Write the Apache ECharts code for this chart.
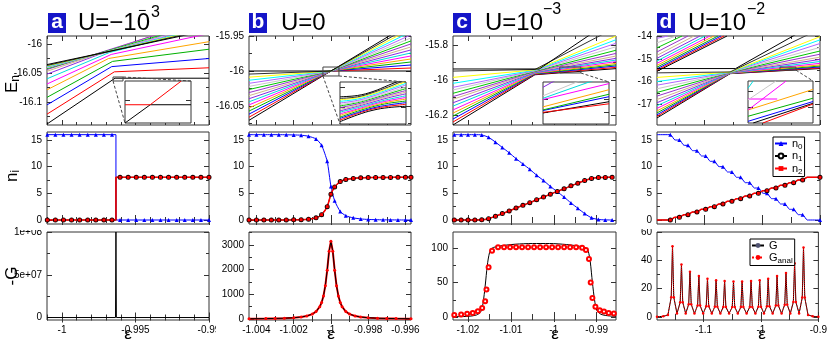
<!DOCTYPE html>
<html><head><meta charset="utf-8">
<script src="https://cdn.jsdelivr.net/npm/echarts@6.0.0/dist/echarts.min.js"></script>
<style>html,body{margin:0;padding:0;background:#fff;}#chart{width:830px;height:346px;}</style>
</head><body><div id="chart"></div>
<script>
// ================= DATA =================
const levelColors = ['#000000','#ff0000','#0000ff','#00b000','#ffa500','#ff00ff','#00dcdc','#8a2be2','#d2b48c','#9932cc','#00c800','#c8c8c8','#b464ff','#00ffff','#ffff00','#303030','#000000'];

// ---- top row, panel a (U=-1e-3): each level = left point, knee, right point
const aEdgeEps = [-1.00102, -0.99];
const aLeftE  = [-16.138,-16.121,-16.105,-16.092,-16.079,-16.069,-16.060,-16.052,-16.047,-16.044,-16.0425,-16.041,-16.040,-16.039,-16.038,-16.037,-16.0355];
const aKneeEps= [-0.99639,-0.99644,-0.99662,-0.99656,-0.99683,-0.99665,-0.99676,-0.99756,-0.9955,-0.9955,-0.9955,-0.9955,-0.9955,-0.9955,-0.9955,-0.9955,-0.9955];
const aKneeE  = [-16.059,-16.048,-16.039,-16.030,-16.025,-16.018,-16.0145,-16.0187,-16.000,-15.9995,-16.0013,-16.003,-16.004,-16.0045,-16.005,-16.0055,-16.0058];
const aRightE = [-16.059,-16.041,-16.025,-16.009,-15.996,-15.982,-15.971,-15.962,-15.953,-15.955,-15.960,-15.965,-15.968,-15.970,-15.972,-15.974,-15.976];
const aZoomEps = [-0.99653, -0.99585], aZoomE = [-16.0638, -16.0569];
const aInsetBlack = [[-0.99653,-16.0638],[-0.99627,-16.0608],[-0.99585,-16.0608]];
const aInsetRed   = [[-0.99653,-16.0608],[-0.99627,-16.0608],[-0.99595,-16.0569]];

// ---- panel b (U=0)
const bEdgeEps = [-1.0044, -0.9957], bCross = [-1, -16];
const bLeftE  = [-16.0704,-16.066,-16.0616,-16.0572,-16.0528,-16.0484,-16.044,-16.0396,-16.0352,-16.0308,-16.0264,-16.022,-16.0176,-16.0132,-16.0088,-16.0044,-16.0];
const bRightE = [-16.0,-15.9957,-15.9914,-15.9871,-15.9828,-15.9785,-15.9742,-15.9699,-15.9656,-15.9613,-15.957,-15.9527,-15.9484,-15.9441,-15.9398,-15.9355,-15.9312];
const bZoomEps = [-1.00043, -0.99957], bZoomE = [-16.0071, -15.9943];
const bInsetEps = [-1.00043, -1.0002, -1.0, -0.9998, -0.99957];
const bInsetCol0 = [-16.0064,-16.0059,-16.0054,-16.0050,-16.0045,-16.0040,-16.0035,-16.0031,-16.0026,-16.0021,-16.0016,-16.0012,-16.0007,-16.0002,-15.9997,-15.9993,-15.9988];
const bInsetCol1 = [-16.0043,-16.0039,-16.0036,-16.0032,-16.0028,-16.0025,-16.0021,-16.0017,-16.0014,-16.0010,-16.0006,-16.0003,-15.9999,-15.9995,-15.9991,-15.9988,-15.9984];
const bInsetCol2 = [-16.0029,-16.0025,-16.0022,-16.0018,-16.0015,-16.0011,-16.0008,-16.0004,-16.0000,-15.9997,-15.9993,-15.9990,-15.9986,-15.9982,-15.9979,-15.9975,-15.9972];
const bInsetCol3 = [-16.0021,-16.0017,-16.0013,-16.0008,-16.0004,-16.0000,-15.9996,-15.9991,-15.9987,-15.9983,-15.9979,-15.9975,-15.9970,-15.9966,-15.9962,-15.9958,-15.9953];
const bInsetCol4 = [-16.0017,-16.0011,-16.0006,-16.0001,-15.9995,-15.9990,-15.9985,-15.9979,-15.9974,-15.9969,-15.9963,-15.9958,-15.9952,-15.9947,-15.9942,-15.9936,-15.9931];

// ---- panel c (U=1e-3)
const cEdgeEps = [-1.0235, -0.9855];
const cLeftE  = [-16.257,-16.24,-16.223,-16.206,-16.189,-16.171,-16.149,-16.13,-16.11,-16.095,-16.076,-16.057,-16.042,-16.019,-15.985,-15.949,-15.937];
const cMidEps = [-1.0044,-1.0044,-1.0044,-1.0044,-1.0044,-1.0044,-1.0044,-1.0044,-1.0044,-1.0044,-1.0044,-1.0044,-1.0044,-1.0044,-1.0044,-1.0044,-1.0034];
const cMidE   = [-15.970,-15.968,-15.966,-15.964,-15.962,-15.960,-15.958,-15.956,-15.954,-15.952,-15.950,-15.948,-15.946,-15.944,-15.942,-15.940,-15.937];
const cRightE = [-15.935,-15.928,-15.92,-15.913,-15.905,-15.895,-15.886,-15.876,-15.863,-15.848,-15.83,-15.81,-15.79,-15.77,-15.749,-15.699,-15.641];
const cZoomEps = [-0.9986, -0.9937], cZoomE = [-15.96, -15.9257];
const cInsetLeftE  = [-15.951,-15.9505,-15.949,-15.9485,-15.946,-15.940,-15.939,-15.937,-15.930];
const cInsetRightE = [-15.9418,-15.9435,-15.9377,-15.9357,-15.932,-15.927,-15.920,-15.915,-15.900];
const cInsetColors = ['#000000','#ff0000','#0000ff','#00b000','#ffa500','#ff00ff','#00dcdc','#c8c8c8','#8a2be2'];

// ---- panel d (U=1e-2)
const dEdgeEps = [-1.181, -0.9];
const dLeftE  = [-17.60,-17.53,-17.46,-17.38,-17.29,-17.18,-17.06,-16.93,-16.79,-16.64,-16.48,-16.32,-16.16,-16.00,-15.82,-15.62,-15.43];
const dMidEps = [-1.055,-1.055,-1.055,-1.055,-1.055,-1.055,-1.055,-1.055,-1.055,-1.055,-1.055,-1.055,-1.055,-1.055,-1.055,-1.055,-1.0455];
const dMidE   = [-15.655,-15.65,-15.645,-15.64,-15.635,-15.63,-15.625,-15.62,-15.615,-15.61,-15.605,-15.60,-15.595,-15.59,-15.585,-15.58,-15.43];
const dRightE = [-15.43,-15.40,-15.36,-15.32,-15.27,-15.20,-15.12,-15.03,-14.93,-14.80,-14.66,-14.50,-14.33,-14.17,-14.03,-13.69,-13.33];
const dUpLeftE   = [-15.55,-15.50,-15.44,-15.37,-15.29,-15.20,-15.10,-14.98,-14.85,-14.70,-14.52,-14.30,-14.10];
const dUpExitEps = [-1.0603,-1.0655,-1.0707,-1.0759,-1.0828,-1.0897,-1.0983,-1.1069,-1.1172,-1.1276,-1.1379,-1.1483,-1.1621];
const dUpExitE = -14.0;
const dZoomEps = [-0.969, -0.9414], dZoomE = [-15.50, -15.367];
const dInsetStart = [[-0.9668,-15.50],[-0.9627,-15.50],[-0.969,-15.4947],[-0.969,-15.4787],[-0.969,-15.4588],[-0.969,-15.4588],[-0.969,-15.424],[-0.969,-15.4268],[-0.969,-15.39]];
const dInsetEnd   = [[-0.9414,-15.4375],[-0.9414,-15.44],[-0.9414,-15.432],[-0.9414,-15.4215],[-0.9414,-15.3936],[-0.9528,-15.367],[-0.9566,-15.424],[-0.9571,-15.367],[-0.9668,-15.367]];
const dInsetColors = ['#000000','#ff0000','#0000ff','#00b000','#ffa500','#ff00ff','#ff00ff','#c8c8c8','#00dcdc'];

// ---- middle row: occupations
const aMarkEps = [-1.0010,-1.00045,-0.9999,-0.99935,-0.9988,-0.99825,-0.9977,-0.99715,-0.9966,-0.99605,-0.9955,-0.99495,-0.9944,-0.99385,-0.9933,-0.99275,-0.9922,-0.99165,-0.9911,-0.99055,-0.9900];
const aN0Mark  = [16,16,16,16,16,16,16,16,16,0,0,0,0,0,0,0,0,0,0,0,0];
const aN12Mark = [0,0,0,0,0,0,0,0,0,8,8,8,8,8,8,8,8,8,8,8,8];
const aLineEps = [-1.00102,-0.99633,-0.99633,-0.99];
const aN0Line  = [16,16,0,0];
const aN12Line = [0,0,8,8];

const bMidEps = [-1.0044,-1.0040,-1.0036,-1.0032,-1.0028,-1.0024,-1.0020,-1.0016,-1.0012,-1.0008,-1.0005,-1.0002,-1.0000,-0.9998,-0.9995,-0.9992,-0.9988,-0.9984,-0.9980,-0.9976,-0.9972,-0.9968,-0.9964,-0.9960,-0.9957];
const bN0  = [16,16,16,16,16,15.98,15.95,15.9,15.7,15.2,14.0,11.0,6.3,3.6,1.6,0.8,0.4,0.2,0.1,0.06,0.03,0.02,0.01,0,0];
const bN12 = [0,0,0,0,0,0.01,0.03,0.05,0.15,0.4,1.0,2.5,4.85,6.2,7.2,7.6,7.8,7.9,7.95,7.97,7.98,7.99,8,8,8];

const cMidGridEps = [-1.0232,-1.0216,-1.0200,-1.0184,-1.0168,-1.0152,-1.0136,-1.0120,-1.0104,-1.0088,-1.0072,-1.0056,-1.0040,-1.0024,-1.0008,-0.9992,-0.9976,-0.9960,-0.9944,-0.9928,-0.9912,-0.9896,-0.9880,-0.9864];
const cN0  = [16,16,16,16,15.95,15.5,14.6,13.6,12.6,11.5,10.5,9.5,8.4,7.4,6.3,5.3,4.3,3.2,2.2,1.2,0.4,0.1,0.02,0];
const cN12 = [0,0,0,0,0.025,0.25,0.7,1.2,1.7,2.25,2.75,3.25,3.8,4.3,4.85,5.35,5.85,6.4,6.9,7.4,7.8,7.95,7.99,8];

const dMidGridEps = [-1.1810,-1.1580,-1.1500,-1.1424,-1.1344,-1.1276,-1.1196,-1.1121,-1.1041,-1.0971,-1.0891,-1.0821,-1.0741,-1.0673,-1.0593,-1.0518,-1.0438,-1.0368,-1.0288,-1.0212,-1.0132,-1.0062,-0.9982,-0.9914,-0.9834,-0.9759,-0.9679,-0.9604,-0.9524,-0.9454,-0.9374,-0.9299,-0.9219,-0.9000];
const dN0  = [16,16,15,15,14,14,13,13,12,12,11,11,10,10,9,9,8,8,7,7,6,6,5,5,4,4,3,3,2,2,1,1,0,0];
const dN12 = [0,0,0.5,0.5,1,1,1.5,1.5,2,2,2.5,2.5,3,3,3.5,3.5,4,4,4.5,4.5,5,5,5.5,5.5,6,6,6.5,6.5,7,7,7.5,7.5,8,8];

// ---- bottom row: -G
const aGEps = [-1.00102,-0.99636,-0.99633,-0.9963,-0.99];
const aG    = [0,0,1e8,0,0];
const bGEps = [-1.0044,-1.0035,-1.003,-1.0025,-1.002,-1.0016,-1.0013,-1.001,-1.0008,-1.0006,-1.0005,-1.0004,-1.0003,-1.0002,-1.0001,-1.0,-0.9999,-0.9998,-0.9997,-0.9996,-0.9995,-0.9994,-0.9992,-0.999,-0.9987,-0.9984,-0.998,-0.9975,-0.997,-0.9965,-0.9957];
const bG    = [11,17,23.5,34,52,81,121,199,300,498,670,935,1352,1981,2744,3150,2744,1981,1352,935,670,498,300,199,121,81,52,34,23.5,17,11];
const cGEps = [-1.0235,-1.020,-1.018,-1.017,-1.0165,-1.016,-1.0155,-1.015,-1.0145,-1.014,-1.012,-1.009,-1.005,-1.001,-0.997,-0.994,-0.9925,-0.992,-0.9915,-0.991,-0.9905,-0.990,-0.989,-0.987,-0.9855];
const cG    = [0.5,1,3,8,20,45,75,93,99,101,103.5,105.5,106.5,106.5,105,102.5,100,96,80,50,25,10,4,1.5,0.8];
const cAnalEps = [-1.0232,-1.0216,-1.0202,-1.0189,-1.0177,-1.0167,-1.0160,-1.0157,-1.0152,-1.0144,-1.0130,-1.0116,-1.0102,-1.0088,-1.0074,-1.0060,-1.0046,-1.0032,-1.0018,-1.0004,-0.9990,-0.9976,-0.9962,-0.9948,-0.9934,-0.9925,-0.9918,-0.9914,-0.9910,-0.9903,-0.9893,-0.9883,-0.9872,-0.9860];
const cAnal    = [3,3.8,4.8,6,8.5,13,23,40,72,96,101,101,101,101,101,101,101,101,101,101,101,101,101,101,100.5,97,84,50,27.5,15,10,8,6,5];
const dGEps = [-1.181,-1.17,-1.162,
 -1.1562,-1.1540,-1.1518,-1.1462, -1.1406,-1.1384,-1.1362,-1.1310, -1.1258,-1.1236,-1.1214,-1.1158,
 -1.1103,-1.1081,-1.1059,-1.1006, -1.0953,-1.0931,-1.0909,-1.0856, -1.0803,-1.0781,-1.0759,-1.0707,
 -1.0655,-1.0633,-1.0611,-1.0555, -1.0500,-1.0478,-1.0456,-1.0403, -1.0350,-1.0328,-1.0306,-1.0250,
 -1.0194,-1.0172,-1.0150,-1.0097, -1.0044,-1.0022,-1.0000,-0.9948, -0.9896,-0.9874,-0.9852,-0.9796,
 -0.9741,-0.9719,-0.9697,-0.9641, -0.9586,-0.9564,-0.9542,-0.9489, -0.9436,-0.9414,-0.9392,-0.9336,
 -0.9281,-0.9259,-0.9237, -0.918,-0.91,-0.9];
const dG = [0.2,0.5,1.5,
 14,50,14,2.5, 10.4,37,10.4,2.5, 9,32,9,2.5,
 8.1,29,8.1,2.5, 7.6,27,7.6,2.5, 7.3,26,7.3,2.5,
 7.1,25.5,7.1,2.5, 7,25,7,2.5, 7,25,7,2.5,
 7.1,25.5,7.1,2.5, 7.3,26,7.3,2.5, 7.6,27,7.6,2.5,
 8.1,29,8.1,2.5, 8.7,31,8.7,2.5, 10.6,38,10.6,2.5,
 13.7,49,13.7, 1.5,0.5,0.2];

// ---- ticks and tick labels
const aXMajor=[-1,-0.995,-0.99], aXMinor=[-1.001,-0.999,-0.998,-0.997,-0.996,-0.994,-0.993,-0.992,-0.991];
const aXLabels=['-1','-0.995','-0.99'];
const bXMajor=[-1.004,-1.002,-1,-0.998,-0.996], bXMinor=[-1.003,-1.001,-0.999,-0.997];
const bXLabels=['-1.004','-1.002','-1','-0.998','-0.996'];
const cXMajor=[-1.02,-1.01,-1,-0.99], cXMinor=[-1.015,-1.005,-0.995];
const cXLabels=['-1.02','-1.01','-1','-0.99'];
const dXMajor=[-1.1,-1,-0.9], dXMinor=[-1.15,-1.05,-0.95];
const dXLabels=['-1.1','-1','-0.9'];
const aEMajor=[-16.1,-16.05,-16], aEMinor=[-16.125,-16.075,-16.025], aELabels=['-16.1','-16.05','-16'];
const bEMajor=[-16.05,-16,-15.95], bEMinor=[-16.075,-16.025,-15.975], bELabels=['-16.05','-16','-15.95'];
const cEMajor=[-16.2,-16,-15.8], cEMinor=[-16.1,-15.9], cELabels=['-16.2','-16','-15.8'];
const dEMajor=[-17,-16,-15,-14], dEMinor=[-17.5,-16.5,-15.5,-14.5], dELabels=['-17','-16','-15','-14'];
const nMajor=[0,5,10,15], nMinor=[2.5,7.5,12.5], nLabels=['0','5','10','15'];
const aGMajor=[0,5e7,1e8], aGMinor=[2.5e7,7.5e7], aGLabels=['0','5e+07','1e+08'];
const bGMajor=[0,1000,2000,3000], bGMinor=[500,1500,2500,3500], bGLabels=['0','1000','2000','3000'];
const cGMajor=[0,50,100], cGMinor=[25,75], cGLabels=['0','50','100'];
const dGMajor=[0,20,40,60], dGMinor=[10,30,50], dGLabels=['0','20','40','60'];

// ================= BUILD =================
const FONT = '"Liberation Sans",Arial,Helvetica,sans-serif';
const TFONT = FONT;
const grids=[], xAxis=[], yAxis=[], series=[], graphic=[];
const FRAME='#333';

function mkAxis(gi, range, pos, ticks, len, labVals, labTexts, z) {
  const ax = {type:'value', gridIndex:gi, min:range[0], max:range[1], position:pos, z:z||0,
    axisLine:{show:false}, splitLine:{show:false}, minorTick:{show:false},
    axisTick:{show:ticks.length>0, inside:true, length:len, customValues:ticks, lineStyle:{color:FRAME,width:1}},
    axisLabel:{show:false}, axisPointer:{show:false}, silent:true};
  if (labVals) {
    ax.axisLabel = {show:true, customValues:labVals, fontSize:10, fontFamily:TFONT, color:'#000', margin:5,
      formatter:(v)=>{const i=labVals.findIndex(t=>Math.abs(t-v)<=Math.abs(t)*1e-9+1e-12); return i>=0?labTexts[i]:'';}};
  }
  return ax;
}
function panel(rect, xr, yr, c, z) {
  const gi = grids.length;
  grids.push({left:rect[0], top:rect[1], width:rect[2], height:rect[3], show:true, borderColor:FRAME, borderWidth:1,
    backgroundColor: z ? '#fff' : 'rgba(0,0,0,0)', z: z||0});
  const xi = xAxis.length, yi = yAxis.length;
  xAxis.push(mkAxis(gi, xr, 'bottom', c.xMajor||[], 5, c.xLabels?c.xMajor:null, c.xLabels, z));
  xAxis.push(mkAxis(gi, xr, 'top', c.xMajor||[], 5, null, null, z));
  if (c.xMinor) { xAxis.push(mkAxis(gi, xr, 'bottom', c.xMinor, 3, null, null, z)); xAxis.push(mkAxis(gi, xr, 'top', c.xMinor, 3, null, null, z)); }
  yAxis.push(mkAxis(gi, yr, 'left', c.yMajor||[], 5, c.yLabels?c.yMajor:null, c.yLabels, z));
  yAxis.push(mkAxis(gi, yr, 'right', c.yMajor||[], 5, null, null, z));
  if (c.yMinor) { yAxis.push(mkAxis(gi, yr, 'left', c.yMinor, 3, null, null, z)); yAxis.push(mkAxis(gi, yr, 'right', c.yMinor, 3, null, null, z)); }
  return {gi, xi, yi, z:z||0};
}
function line(p, data, color, extra) {
  series.push(Object.assign({type:'line', xAxisIndex:p.xi, yAxisIndex:p.yi, data, symbol:'none', silent:true,
    animation:false, clip:true, z:2+p.z*2, lineStyle:{color, width:1}}, extra||{}));
}
const zip = (xs, ys) => xs.map((x,i)=>[x, ys[i]]);
// keep a marker only on every second point (the line still passes through all points)
const thin = (pts) => pts.map((p,i)=> i%2===0 ? {value:p, symbol:'none'} : p);

const COL = [[47,162],[249,162],[453,163],[657,163]];
const ROW = [[36,89],[132,92],[232,88]];
const R = (c,r)=>[COL[c][0], ROW[r][0], COL[c][1], ROW[r][1]];

// ---- top row
const pa = panel(R(0,0), aEdgeEps, [-16.1397,-15.9862], {xMajor:aXMajor, xMinor:aXMinor, yMajor:aEMajor, yMinor:aEMinor, yLabels:aELabels});
const pb = panel(R(1,0), bEdgeEps, [-16.0771,-15.95], {xMajor:bXMajor, xMinor:bXMinor, yMajor:bEMajor, yMinor:bEMinor, yLabels:bELabels});
const pc = panel(R(2,0), cEdgeEps, [-16.2571,-15.7486], {xMajor:cXMajor, xMinor:cXMinor, yMajor:cEMajor, yMinor:cEMinor, yLabels:cELabels});
const pd = panel(R(3,0), dEdgeEps, [-17.91,-14], {xMajor:dXMajor, xMinor:dXMinor, yMajor:dEMajor, yMinor:dEMinor, yLabels:dELabels});

aLeftE.forEach((l,i)=> line(pa, [[aEdgeEps[0],l],[aKneeEps[i],aKneeE[i]],[aEdgeEps[1],aRightE[i]]], levelColors[i]));
bLeftE.forEach((l,i)=> line(pb, [[bEdgeEps[0],l],bCross,[bEdgeEps[1],bRightE[i]]], levelColors[i]));
cLeftE.forEach((l,i)=> line(pc, [[cEdgeEps[0],l],[cMidEps[i],cMidE[i]],[cEdgeEps[1],cRightE[i]]], levelColors[i]));
dUpLeftE.forEach((l,i)=> line(pd, [[dEdgeEps[0],l],[dUpExitEps[i],dUpExitE]], levelColors[i % 15]));
dLeftE.forEach((l,i)=> line(pd, [[dEdgeEps[0],l],[dMidEps[i],dMidE[i]],[dEdgeEps[1],dRightE[i]]], levelColors[i]));

function zoomRect(p, ex, ey) {
  line(p, [[ex[0],ey[0]],[ex[1],ey[0]],[ex[1],ey[1]],[ex[0],ey[1]],[ex[0],ey[0]]], '#444', {z:5});
}
zoomRect(pa, aZoomEps, aZoomE); zoomRect(pb, bZoomEps, bZoomE); zoomRect(pc, cZoomEps, cZoomE); zoomRect(pd, dZoomEps, dZoomE);

const ia = panel([125,81,66,42], aZoomEps, aZoomE, {yMajor:[-16.06]}, 3);
const ib = panel([340,82,66,42], bZoomEps, bZoomE, {yMajor:[-16.002,-15.996]}, 3);
const ic = panel([543,82,66,42], cZoomEps, cZoomE, {yMajor:[-15.95,-15.94]}, 3);
const id = panel([748,81,65,42], dZoomEps, dZoomE, {yMajor:[-15.45,-15.4]}, 3);
line(ia, aInsetBlack, '#000'); line(ia, aInsetRed, '#ff0000');
bInsetCol0.forEach((v,i)=> line(ib, zip(bInsetEps,[bInsetCol0[i],bInsetCol1[i],bInsetCol2[i],bInsetCol3[i],bInsetCol4[i]]), levelColors[i], {smooth:0.4}));
cInsetLeftE.forEach((v,i)=> line(ic, [[cZoomEps[0],v],[cZoomEps[1],cInsetRightE[i]]], cInsetColors[i]));
dInsetStart.forEach((s,i)=> line(id, [s, dInsetEnd[i]], dInsetColors[i]));

// ---- middle row
const ma = panel(R(0,1), aEdgeEps, [-0.75,16.5], {xMajor:aXMajor, xMinor:aXMinor, yMajor:nMajor, yMinor:nMinor, yLabels:nLabels});
const mb = panel(R(1,1), bEdgeEps, [-0.75,16.5], {xMajor:bXMajor, xMinor:bXMinor, yMajor:nMajor, yMinor:nMinor, yLabels:nLabels});
const mc = panel(R(2,1), cEdgeEps, [-0.75,16.5], {xMajor:cXMajor, xMinor:cXMinor, yMajor:nMajor, yMinor:nMinor, yLabels:nLabels});
const md = panel(R(3,1), dEdgeEps, [-0.75,16.5], {xMajor:dXMajor, xMinor:dXMinor, yMajor:nMajor, yMinor:nMinor, yLabels:nLabels});
const BLUE='#0000ff', RED='#ff0000';
const symN0 = {symbol:'triangle', symbolSize:4, showSymbol:true, itemStyle:{color:BLUE}};
const symN1 = {symbol:'emptyCircle', symbolSize:3, showSymbol:true, itemStyle:{color:'#000', borderColor:'#000', borderWidth:0.8}};
const symN2 = {symbol:'rect', symbolSize:3, showSymbol:true, itemStyle:{color:RED}};
function occ(p, eps, n0, n12, names, lineEps, l0, l12, thinMarks) {
  const f = thinMarks ? thin : (x)=>x;
  if (lineEps) {
    line(p, zip(lineEps,l0), BLUE); line(p, zip(lineEps,l12), '#000'); line(p, zip(lineEps,l12), RED, {lineStyle:{color:RED,width:1.5}});
    line(p, zip(eps,n0), BLUE, Object.assign({name:names[0], lineStyle:{width:0}}, symN0));
    line(p, zip(eps,n12), '#000', Object.assign({name:names[1], lineStyle:{width:0}}, symN1));
    line(p, zip(eps,n12), RED, Object.assign({name:names[2], lineStyle:{width:0}}, symN2));
  } else {
    line(p, f(zip(eps,n0)), BLUE, Object.assign({name:names[0], smooth:0.2}, symN0));
    line(p, f(zip(eps,n12)), '#000', Object.assign({name:names[1], smooth:0.2}, symN1));
    line(p, f(zip(eps,n12)), RED, Object.assign({name:names[2], smooth:0.2, lineStyle:{color:RED,width:1.5}}, symN2));
  }
}
occ(ma, aMarkEps, aN0Mark, aN12Mark, ['a0','a1','a2'], aLineEps, aN0Line, aN12Line);
occ(mb, bMidEps, bN0, bN12, ['b0','b1','b2']);
occ(mc, cMidGridEps, cN0, cN12, ['c0','c1','c2']);
occ(md, dMidGridEps, dN0, dN12, ['n0','n1','n2'], null, null, null, true);

// ---- bottom row
const ga = panel(R(0,2), aEdgeEps, [-2.9e6,1e8], {xMajor:aXMajor, xMinor:aXMinor, xLabels:aXLabels, yMajor:aGMajor, yMinor:aGMinor, yLabels:aGLabels});
const gb = panel(R(1,2), bEdgeEps, [-40,3527], {xMajor:bXMajor, xMinor:bXMinor, xLabels:bXLabels, yMajor:bGMajor, yMinor:bGMinor, yLabels:bGLabels});
const gc = panel(R(2,2), cEdgeEps, [-4.3,123.2], {xMajor:cXMajor, xMinor:cXMinor, xLabels:cXLabels, yMajor:cGMajor, yMinor:cGMinor, yLabels:cGLabels});
const gd = panel(R(3,2), dEdgeEps, [-2.1,60], {xMajor:dXMajor, xMinor:dXMinor, xLabels:dXLabels, yMajor:dGMajor, yMinor:dGMinor, yLabels:dGLabels});
line(ga, zip(aGEps,aG), '#000');
line(gb, zip(bGEps,bG), RED, {symbol:'circle', symbolSize:3, showSymbol:true, itemStyle:{color:RED}, lineStyle:{color:RED,width:2}});
line(gb, zip(bGEps,bG), '#000');
line(gc, zip(cGEps,cG), '#000', {smooth:0.3});
line(gc, zip(cAnalEps,cAnal), RED, {symbol:'emptyCircle', symbolSize:4, showSymbol:true, itemStyle:{color:RED, borderColor:RED, borderWidth:0.8}, lineStyle:{width:0}});
line(gd, zip(dGEps,dG), '#000', {name:'G'});
line(gd, zip(dGEps,dG), RED, {name:'Ganal', symbol:'circle', symbolSize:2.5, showSymbol:true, itemStyle:{color:RED}, lineStyle:{color:RED,width:1,type:'dotted'}});

// ---- text / decoration
function txt(x,baseline,size,text,fontStr,extra){ graphic.push(Object.assign({type:'text', x, y:baseline-0.35*size, silent:true, z:20, style:Object.assign({text, font:fontStr, fill:'#000', textAlign:'left', textVerticalAlign:'middle'}, extra||{})})); }
const letters = [['a',48],['b',249],['c',453],['d',657]];
letters.forEach(([t,x])=>{
  graphic.push({type:'rect', silent:true, z:20, shape:{x, y:13, width:18, height:20}, style:{fill:'#1515c8'}});
  txt(x+9, 30, 21, t, 'bold 21px '+FONT, {fill:'#fff', textAlign:'center'});
});
txt(78, 32, 24, 'U=−10', '24px '+FONT); txt(138, 16, 14, '−', '14px '+FONT); txt(151, 18, 16, '3', '16px '+FONT);
txt(281, 32, 24, 'U=0', '24px '+FONT);
txt(485, 32, 24, 'U=10', '24px '+FONT); txt(543, 15, 16, '−3', '16px '+FONT);
txt(688, 32, 24, 'U=10', '24px '+FONT); txt(747, 15, 16, '−2', '16px '+FONT);
function vtitle(x,y,main,sub){ graphic.push({type:'text', x, y, rotation:Math.PI/2, silent:true, z:20,
  style:{text: sub?('{m|'+main+'}{s|'+sub+'}'):('{m|'+main+'}'), textAlign:'center', textVerticalAlign:'middle',
    rich:{m:{font:'17px '+FONT, fill:'#000'}, s:{font:'12px '+FONT, fill:'#000', padding:[8,0,0,0]}}}}); }
vtitle(12, 84, 'E', 'n'); vtitle(12, 176, 'n', 'i'); vtitle(12, 276, '-G', null);
[128,331,555,762].forEach(x=> txt(x, 340, 17, 'ε', '17px '+FONT, {textAlign:'center'}));
graphic.push({type:'rect', silent:true, z:19, shape:{x:216,y:321,width:12,height:20}, style:{fill:'#fff'}});
graphic.push({type:'rect', silent:true, z:19, shape:{x:18,y:224.5,width:28,height:5.5}, style:{fill:'#fff'}});
graphic.push({type:'rect', silent:true, z:19, shape:{x:630,y:224.5,width:26,height:4.5}, style:{fill:'#fff'}});

const legendText = {fontSize:11, fontFamily:FONT, color:'#000', rich:{s:{fontSize:8, fontFamily:FONT, padding:[6,0,0,0]}}};
const option = {
  animation:false, backgroundColor:'#fff',
  grid:grids, xAxis, yAxis, series, graphic,
  legend:[
    {data:['n0','n1','n2'], orient:'vertical', left:773, top:137, padding:[1,2,1,1], itemGap:0, itemWidth:12, itemHeight:6,
     borderColor:'#000', borderWidth:1, backgroundColor:'#fff', selectedMode:false, textStyle:legendText,
     formatter:(n)=>'n{s|'+n.slice(1)+'}', z:30},
    {data:['G','Ganal'], orient:'vertical', left:750, top:239, padding:[1,2,1,1], itemGap:1, itemWidth:12, itemHeight:6,
     borderColor:'#000', borderWidth:1, backgroundColor:'#fff', selectedMode:false, textStyle:legendText,
     formatter:(n)=> n==='G'?'G':'G{s|anal}', z:30}
  ]
};
const chart = echarts.init(document.getElementById('chart'), null, {renderer:'canvas'});
chart.setOption(option);
function conn(p, ins, from, toCorner) {
  const a = chart.convertToPixel({gridIndex:p.gi}, from);
  const g = grids[ins.gi];
  const b = toCorner==='bl' ? [g.left, g.top+g.height] : [g.left+g.width, g.top];
  graphic.push({type:'line', silent:true, z:18, shape:{x1:a[0],y1:a[1],x2:b[0],y2:b[1]}, style:{stroke:'#444', lineWidth:1, lineDash:[3,2]}});
}
conn(pa, ia, [aZoomEps[0], aZoomE[0]], 'bl'); conn(pa, ia, [aZoomEps[1], aZoomE[1]], 'tr');
conn(pb, ib, [bZoomEps[0], bZoomE[0]], 'bl'); conn(pb, ib, [bZoomEps[1], bZoomE[0]], 'tr');
conn(pc, ic, [cZoomEps[1], cZoomE[0]], 'tr');
conn(pd, id, [dZoomEps[1], dZoomE[0]], 'tr');
chart.setOption({graphic});
</script></body></html>
